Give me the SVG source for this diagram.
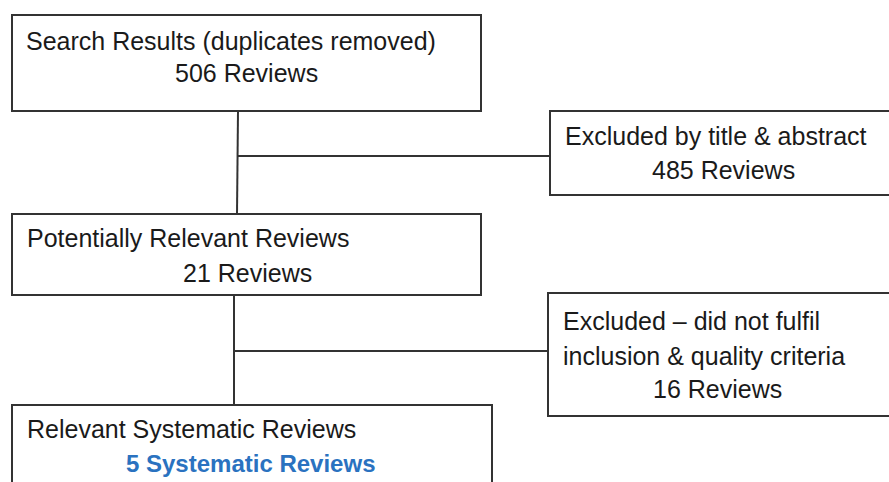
<svg xmlns="http://www.w3.org/2000/svg" width="889" height="482" viewBox="0 0 889 482">
<style>
.box{fill:#fff;stroke:#333;stroke-width:2}
.ln{fill:none;stroke:#333;stroke-width:2}
text{font-family:"Liberation Sans",Arial,sans-serif;font-size:25px;fill:#1a1a1a}
.hl{fill:#2a72c0;font-weight:bold;font-size:24px}
</style>
<rect width="889" height="482" fill="#fff"/>
<g id="connectors">
<path class="ln" d="M238 111 L237 214"/>
<path class="ln" d="M238 156 H550"/>
<path class="ln" d="M234 295 V405"/>
<path class="ln" d="M234 351 H548"/>
</g>
<g id="search">
<rect class="box" x="12" y="15" width="469" height="96"/>
<text x="26" y="50">Search Results (duplicates removed)</text>
<text x="175" y="82">506 Reviews</text>
</g>
<g id="excluded1">
<rect class="box" x="550" y="111" width="345" height="84"/>
<text x="565" y="145">Excluded by title &amp; abstract</text>
<text x="652" y="179">485 Reviews</text>
</g>
<g id="potential">
<rect class="box" x="12" y="214" width="469" height="81"/>
<text x="27" y="247">Potentially Relevant Reviews</text>
<text x="183" y="282">21 Reviews</text>
</g>
<g id="excluded2">
<rect class="box" x="548" y="293" width="347" height="123"/>
<text x="563" y="330">Excluded – did not fulfil</text>
<text x="563" y="365">inclusion &amp; quality criteria</text>
<text x="653" y="398">16 Reviews</text>
</g>
<g id="relevant">
<rect class="box" x="12" y="405" width="480" height="90"/>
<text x="27" y="438">Relevant Systematic Reviews</text>
<text class="hl" x="126" y="472">5 Systematic Reviews</text>
</g>
</svg>
